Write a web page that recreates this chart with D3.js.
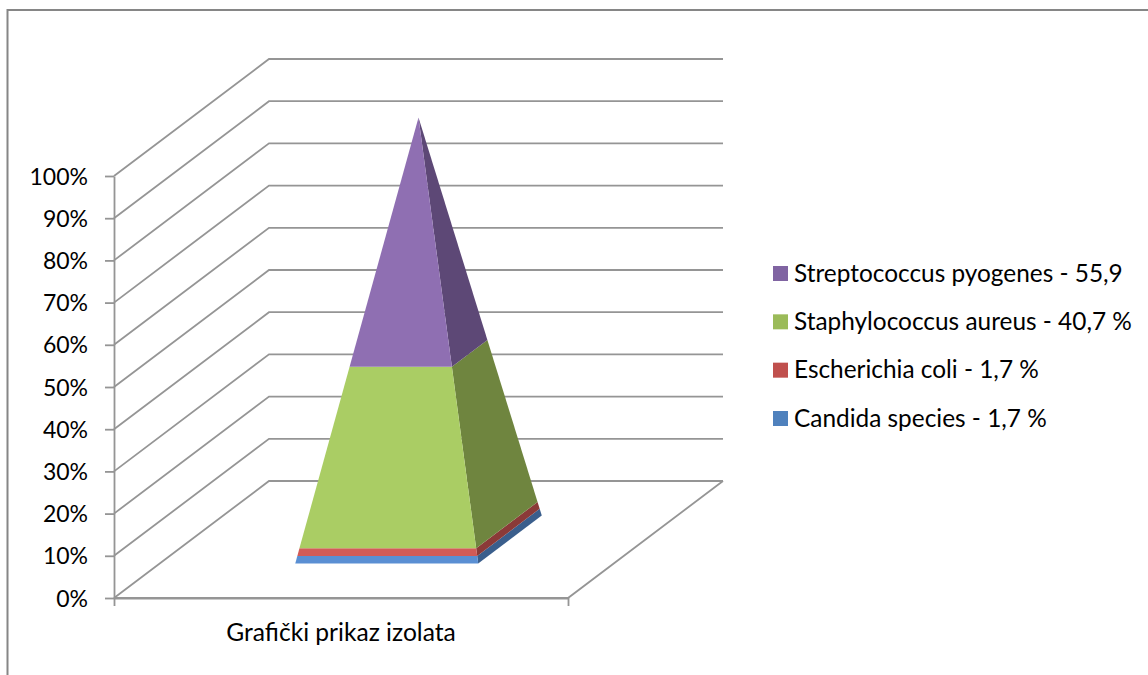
<!DOCTYPE html>
<html>
<head>
<meta charset="utf-8">
<script src="https://d3js.org/d3.v7.min.js"></script>
<style>
  html, body { margin: 0; padding: 0; background: #fff; overflow: hidden; }
  text { font-family: Lato, Carlito, sans-serif; fill: #000; }
</style>
</head>
<body>
<svg id="chart" width="1148" height="675"></svg>
<script>
// bottom of the stack first
var names = ["Candida species - 1,7 %", "Escherichia coli - 1,7 %", "Staphylococcus aureus - 40,7 %", "Streptococcus pyogenes - 55,9"];
var values = [1.7, 1.7, 40.7, 55.9];
var category = "Grafički prikaz izolata";
var yTicks = [0, 10, 20, 30, 40, 50, 60, 70, 80, 90, 100];

var legendColors = ["#4f81bd", "#c0504d", "#9bbb59", "#8064a2"];
var frontColors = ["#5a8fd3", "#d25b57", "#aacd64", "#8f6fb2"];
var sideColors = ["#3a5e8c", "#8b3a38", "#6f853f", "#5d4876"];

var svg = d3.select("#chart");

var x = d3.scaleLinear().domain([0, 1]).range([114, 568]);
var y = d3.scaleLinear().domain([0, 100]).range([598, 176]);
// depth of the floor goes up and to the right
var depthX = d3.scaleLinear().domain([0, 1]).range([0, 155]);
var depthY = d3.scaleLinear().domain([0, 1]).range([0, -117]);

function project(px, pd, v) {
    return [x(px) + depthX(pd), y(v) + depthY(pd)];
}

var gridColor = "#959595";

// outer chart frame
svg.append("path")
    .attr("d", "M7.5,675 V10 H1148")
    .attr("fill", "none")
    .attr("stroke", "#868686")
    .attr("stroke-width", 2);

// walls
var line = d3.line();
svg.append("g").selectAll("path")
    .data(yTicks)
    .enter()
    .append("path")
    .attr("d", function (d) {return line([project(0, 0, d), project(0, 1, d), project(1, 1, d)]);})
    .attr("fill", "none")
    .attr("stroke", gridColor)
    .attr("stroke-width", 1.8);

// floor
svg.append("path")
    .attr("d", line([project(1, 1, 0), project(1, 0, 0), project(0, 0, 0)]))
    .attr("fill", "none")
    .attr("stroke", gridColor)
    .attr("stroke-width", 1.8);

// value axis
var yAxis = d3.axisLeft(y)
    .tickValues(yTicks)
    .tickFormat(function (d) {return d + "%";})
    .tickSize(9)
    .tickSizeOuter(0)
    .tickPadding(17);
var yG = svg.append("g").attr("transform", "translate(114,0)").call(yAxis);
yG.selectAll("path, line").attr("stroke", gridColor).attr("stroke-width", 1.8);
yG.selectAll("text").attr("font-size", 23).attr("fill", "#000").attr("dy", 8);

// category axis, only the end ticks
var xAxis = d3.axisBottom(x).tickValues([0, 1]).tickFormat("").tickSize(8).tickSizeOuter(0);
var xG = svg.append("g").attr("transform", "translate(0,598)").call(xAxis);
xG.selectAll("path, line").attr("stroke", gridColor).attr("stroke-width", 1.8);

svg.append("text")
    .attr("x", x(0.5))
    .attr("y", 641)
    .attr("text-anchor", "middle")
    .attr("font-size", 24.6)
    .text(category);

// pyramid
var halfW = 0.2015, centerD = 0.5, halfD = 0.205;
function corner(sx, sd, v) {
    var k = 1 - v / 100;
    return project(0.5 + sx * halfW * k, centerD + sd * halfD * k, v);
}

var layers = [];
var sum = 0;
values.forEach(function (v, i) {
    layers.push({from: sum, to: sum + v, i: i});
    sum += v;
});
var yShare = d3.scaleLinear().domain([0, sum]).range([0, 100]);

var pyramid = svg.append("g");
pyramid.selectAll(".side")
    .data(layers)
    .enter()
    .append("path")
    .attr("class", "side")
    .attr("fill", function (d) {return sideColors[d.i];})
    .attr("d", function (d) {
        var a = yShare(d.from), b = yShare(d.to);
        return line([corner(1, -1, a), corner(1, 1, a), corner(1, 1, b), corner(1, -1, b)]) + "Z";
    });
pyramid.selectAll(".front")
    .data(layers)
    .enter()
    .append("path")
    .attr("class", "front")
    .attr("fill", function (d) {return frontColors[d.i];})
    .attr("d", function (d) {
        var a = yShare(d.from), b = yShare(d.to);
        return line([corner(-1, -1, a), corner(1, -1, a), corner(1, -1, b), corner(-1, -1, b)]) + "Z";
    });

// legend, top entry is the top of the stack
var legendY = d3.scalePoint().domain(d3.range(4)).range([418.5, 273.5]);
var legend = svg.append("g").selectAll("g")
    .data(names)
    .enter()
    .append("g")
    .attr("transform", function (d, i) {return "translate(773," + legendY(i) + ")";});
legend.append("rect")
    .attr("x", 0).attr("y", -7.5)
    .attr("width", 15).attr("height", 15)
    .attr("fill", function (d, i) {return legendColors[i];});
legend.append("text")
    .attr("x", 21)
    .attr("y", 8)
    .attr("font-size", 24.4)
    .text(function (d) {return d;});
</script>
</body>
</html>
